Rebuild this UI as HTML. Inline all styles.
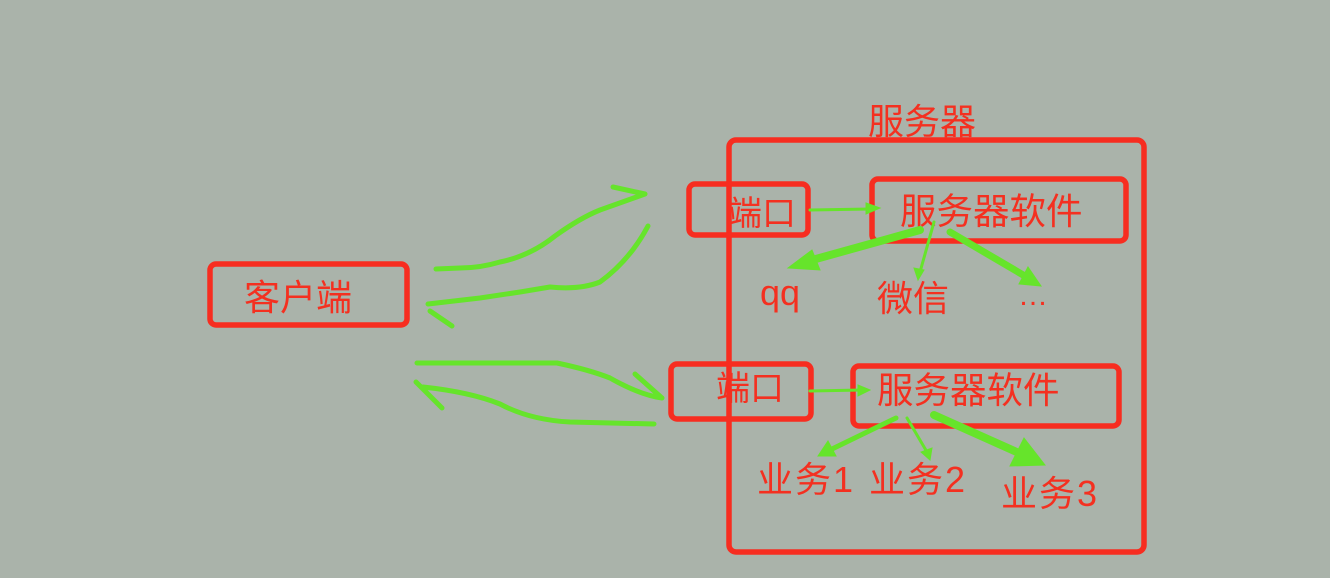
<!DOCTYPE html>
<html><head><meta charset="utf-8"><style>
html,body{margin:0;padding:0;background:#aab3aa;}
svg{display:block}
text{font-family:"Liberation Sans","Noto Sans CJK SC",sans-serif;fill:#f43020;}
</style></head><body>
<svg width="1330" height="578" viewBox="0 0 1330 578" xmlns="http://www.w3.org/2000/svg">
<rect width="1330" height="578" fill="#aab3aa"/>
<g fill="none" stroke="#f72d20" stroke-width="5.5">
<rect x="729" y="140" width="415" height="412" rx="7"/>
<rect x="210" y="264" width="197" height="61" rx="6"/>
<rect x="689" y="184" width="119" height="51" rx="6"/>
<rect x="872" y="179" width="254" height="62" rx="6"/>
<rect x="671" y="364" width="140" height="55" rx="6"/>
<rect x="853" y="366" width="266" height="60" rx="6"/>
</g>
<g font-size="36">
<text x="868" y="134">服务器</text>
<text x="244" y="310">客户端</text>
<text x="728" y="225" font-size="34">端口</text>
<text x="716" y="400" font-size="34">端口</text>
<text x="900" y="224" font-size="36.5">服务器软件</text>
<text x="877" y="403" font-size="36.5">服务器软件</text>
<text x="760" y="305" font-size="36">qq</text>
<text x="877" y="311">微信</text>
<text x="1018" y="305" font-size="30">…</text>
<text x="757" y="492" letter-spacing="2">业务1</text>
<text x="869" y="492" letter-spacing="2">业务2</text>
<text x="1001" y="506" letter-spacing="2">业务3</text>
</g>
<g fill="none" stroke="#66e42b" stroke-width="5" stroke-linecap="round" stroke-linejoin="round">
<path d="M436,269 L460,268 Q480,268 500,262 Q530,256 555,236 Q580,218 600,210 L645,194 M613,187 L645,194"/>
<path d="M648,226 Q630,260 600,282 Q580,290 550,287 L520,292 L480,298 L428,304 M430,311 L452,326"/>
<path d="M417,363 L557,363 Q590,370 610,378 Q640,395 662,398 M635,374 L662,398"/>
<path d="M654,424 L570,422 Q530,420 500,404 Q470,392 423,387 M416,382 L442,408"/>
</g>
<g stroke="#66e42b" stroke-linecap="round" fill="#66e42b">
<line x1="810" y1="210" x2="870" y2="209" stroke-width="3"/>
<polygon points="880,208 866,203 866,214" />
<line x1="920" y1="230" x2="805" y2="262" stroke-width="8"/>
<polygon points="788,268 812,250 820,270"/>
<line x1="934" y1="222" x2="920" y2="272" stroke-width="3"/>
<polygon points="918,280 914,268 924,270"/>
<line x1="950" y1="232" x2="1030" y2="279" stroke-width="7"/>
<polygon points="1041,286 1028,267 1019,284"/>
<line x1="810" y1="391" x2="862" y2="390" stroke-width="3"/>
<polygon points="870,390 858,385 858,396"/>
<line x1="896" y1="418" x2="830" y2="450" stroke-width="5"/>
<polygon points="818,456 828,441 836,456"/>
<line x1="907" y1="418" x2="927" y2="452" stroke-width="3"/>
<polygon points="930,460 921,452 932,448"/>
<line x1="934" y1="415" x2="1030" y2="458" stroke-width="8"/>
<polygon points="1045,465 1024,438 1010,466"/>
</g>
</svg>
</body></html>
